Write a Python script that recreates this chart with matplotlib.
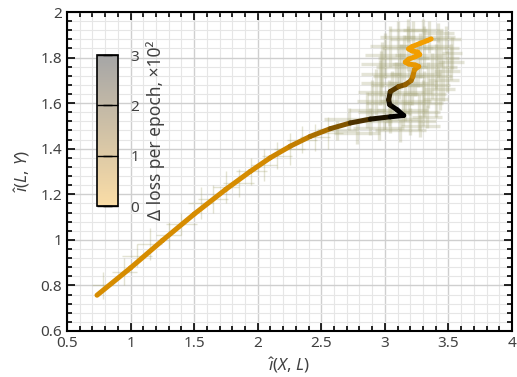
import matplotlib
matplotlib.use("Agg")
import matplotlib.pyplot as plt
import numpy as np
from matplotlib.collections import LineCollection
from matplotlib.colors import LinearSegmentedColormap, Normalize
from matplotlib.ticker import MultipleLocator
import matplotlib.cm as cm

plt.rcParams['font.family'] = ['Noto Sans', 'DejaVu Sans']
plt.rcParams['mathtext.fontset'] = 'custom'
plt.rcParams['mathtext.rm'] = 'Noto Sans'
plt.rcParams['mathtext.it'] = 'Noto Sans:italic'

# smoothed trajectory (I(X,L), I(L,Y)) and loss change per epoch (x100)
traj_x = [0.736, 1.0, 1.25, 1.5, 1.75, 1.941, 2.098, 2.256, 2.413, 2.571, 2.728, 2.886,
          3.043, 3.148, 3.096, 3.038, 3.030, 3.043, 3.109, 3.161, 3.206, 3.220, 3.232,
          3.266, 3.240, 3.187, 3.161, 3.187, 3.240, 3.274, 3.258, 3.214, 3.187, 3.214,
          3.280, 3.332, 3.364]
traj_y = [0.757, 0.877, 0.997, 1.113, 1.222, 1.300, 1.360, 1.411, 1.454, 1.488, 1.513, 1.530,
          1.540, 1.546, 1.571, 1.593, 1.615, 1.651, 1.673, 1.681, 1.699, 1.717, 1.746,
          1.761, 1.767, 1.772, 1.780, 1.793, 1.804, 1.813, 1.824, 1.829, 1.838, 1.848,
          1.863, 1.874, 1.882]
traj_dloss = [0.35, 0.35, 0.35, 0.35, 0.35, 0.35, 0.4, 0.5, 0.7, 1.1, 1.7, 2.4,
              2.9, 3.0, 3.0, 2.9, 2.6, 2.2, 1.6, 1.3, 1.0, 0.7, 0.4,
              0.2, 0.15, 0.1, 0.05, 0.05, 0.0, 0.0, 0.0, 0.0, 0.0, 0.0,
              0.0, 0.0, 0.0]

# per-epoch estimates with spread: early epochs (sparse)
low_x = [0.78, 0.95, 1.05, 1.15, 1.3, 1.4, 1.55, 1.65, 1.75, 1.85, 1.95, 2.05, 2.15,
         2.25, 2.35, 2.45, 2.55]
low_y = [0.80, 0.86, 0.93, 0.98, 1.02, 1.07, 1.16, 1.18, 1.23, 1.25, 1.30, 1.33, 1.37,
         1.40, 1.44, 1.45, 1.47]
low_xerr = [0.08, 0.1, 0.12, 0.1, 0.1, 0.12, 0.1, 0.12, 0.1, 0.12, 0.12, 0.1, 0.12,
            0.12, 0.12, 0.12, 0.12]
low_yerr = [0.06, 0.06, 0.05, 0.07, 0.06, 0.05, 0.07, 0.06, 0.07, 0.06, 0.06, 0.07, 0.06,
            0.07, 0.06, 0.06, 0.07]

# late epochs (dense cloud)
high_x = [2.62, 2.78, 2.95, 3.12, 3.28,
          2.72, 2.88, 3.04, 3.20, 3.33,
          2.86, 2.99, 3.14, 3.27,
          2.90, 3.03, 3.16, 3.30, 3.40,
          2.93, 3.06, 3.19, 3.31, 3.43,
          2.96, 3.09, 3.21, 3.34, 3.46,
          2.97, 3.11, 3.24, 3.37, 3.49,
          2.98, 3.13, 3.26, 3.40, 3.52,
          3.00, 3.15, 3.28, 3.42, 3.53,
          3.04, 3.18, 3.31, 3.44,
          3.10, 3.22, 3.35, 3.48,
          3.18, 3.30, 3.42]
high_y = [1.48, 1.47, 1.49, 1.48, 1.50,
          1.53, 1.52, 1.53, 1.52, 1.54,
          1.57, 1.56, 1.57, 1.56,
          1.61, 1.60, 1.61, 1.60, 1.62,
          1.65, 1.64, 1.65, 1.64, 1.66,
          1.69, 1.68, 1.69, 1.68, 1.70,
          1.73, 1.72, 1.73, 1.72, 1.74,
          1.77, 1.76, 1.77, 1.76, 1.78,
          1.81, 1.80, 1.81, 1.80, 1.82,
          1.85, 1.84, 1.85, 1.84,
          1.89, 1.88, 1.89, 1.88,
          1.92, 1.92, 1.91]
high_xerr = [0.15, 0.18, 0.20, 0.20, 0.15,
             0.20, 0.18, 0.22, 0.20, 0.12,
             0.14, 0.20, 0.20, 0.16,
             0.12, 0.18, 0.20, 0.16, 0.10,
             0.14, 0.20, 0.18, 0.17, 0.12,
             0.15, 0.20, 0.18, 0.17, 0.12,
             0.16, 0.20, 0.20, 0.16, 0.10,
             0.17, 0.20, 0.20, 0.17, 0.10,
             0.16, 0.20, 0.20, 0.16, 0.08,
             0.16, 0.20, 0.20, 0.14,
             0.14, 0.18, 0.20, 0.12,
             0.15, 0.16, 0.12]
high_yerr = [0.04, 0.05, 0.05, 0.05, 0.05,
             0.05, 0.06, 0.06, 0.06, 0.05,
             0.08, 0.08, 0.07, 0.08,
             0.09, 0.10, 0.09, 0.10, 0.08,
             0.10, 0.10, 0.10, 0.10, 0.09,
             0.10, 0.10, 0.10, 0.10, 0.09,
             0.10, 0.10, 0.10, 0.10, 0.09,
             0.10, 0.10, 0.10, 0.10, 0.08,
             0.10, 0.10, 0.10, 0.09, 0.07,
             0.09, 0.10, 0.09, 0.08,
             0.07, 0.08, 0.07, 0.06,
             0.05, 0.05, 0.04]

cmap = LinearSegmentedColormap.from_list('ob', ['#f29e00', '#000000'])
norm = Normalize(0, 3)

fig = plt.figure(figsize=(5.17, 3.77), dpi=100)
ax = fig.add_axes([67 / 517, 1 - 331 / 377, 445 / 517, 319 / 377])

ax.errorbar(low_x, low_y, xerr=low_xerr, yerr=low_yerr, fmt='none',
            ecolor='#a3a36e', alpha=0.3, elinewidth=1, zorder=2)
ax.errorbar(high_x, high_y, xerr=high_xerr, yerr=high_yerr, fmt='none',
            ecolor='#a8a87c', alpha=0.3, elinewidth=2.4, zorder=2)

xy = np.column_stack([traj_x, traj_y])
segs = np.stack([xy[:-1], xy[1:]], axis=1)
vals = (np.array(traj_dloss[:-1]) + np.array(traj_dloss[1:])) / 2
lc = LineCollection(segs, cmap=cmap, norm=norm, linewidths=3.6, capstyle='round',
                    joinstyle='round', zorder=3)
lc.set_array(vals)
ax.add_collection(lc)

ax.set_xlim(0.5, 4)
ax.set_ylim(0.6, 2)
ax.xaxis.set_major_locator(MultipleLocator(0.5))
ax.xaxis.set_minor_locator(MultipleLocator(0.1))
ax.yaxis.set_major_locator(MultipleLocator(0.2))
ax.yaxis.set_minor_locator(MultipleLocator(0.04))
ax.xaxis.set_major_formatter(lambda v, p: f'{v:g}')
ax.yaxis.set_major_formatter(lambda v, p: f'{v:g}')
ax.grid(which='major', color='#cfcfcf', lw=1, zorder=0)
ax.grid(which='minor', color='#e6e6e6', lw=0.8, zorder=0)
ax.set_axisbelow(True)
ax.tick_params(which='both', direction='in', top=True, right=True,
               labelsize=11, labelcolor='#404040', width=1.2)
ax.tick_params(which='major', length=6)
ax.tick_params(which='minor', length=3.5)
for s in ax.spines.values():
    s.set_linewidth(1.5)
ax.set_xlabel(r'$\hat{\imath}(X,\,L)$', fontsize=12, color='#404040', labelpad=3)
ax.set_ylabel(r'$\hat{\imath}(L,\,Y)$', fontsize=12, color='#404040', labelpad=6)

cax = fig.add_axes([97 / 517, 1 - 206 / 377, 21 / 517, 151 / 377])
sm = cm.ScalarMappable(norm=norm, cmap=cmap)
cb = fig.colorbar(sm, cax=cax, ticks=[0, 1, 2, 3], alpha=0.35)
cb.outline.set_linewidth(1.2)
cax.tick_params(direction='in', length=10.5, width=1, left=True, right=True,
                labelsize=11, labelcolor='#404040', pad=9)
cb.set_label('Δ loss per epoch, ×10²', fontsize=12.5, color='#404040', labelpad=5)

fig.savefig('out.png', dpi=100)
